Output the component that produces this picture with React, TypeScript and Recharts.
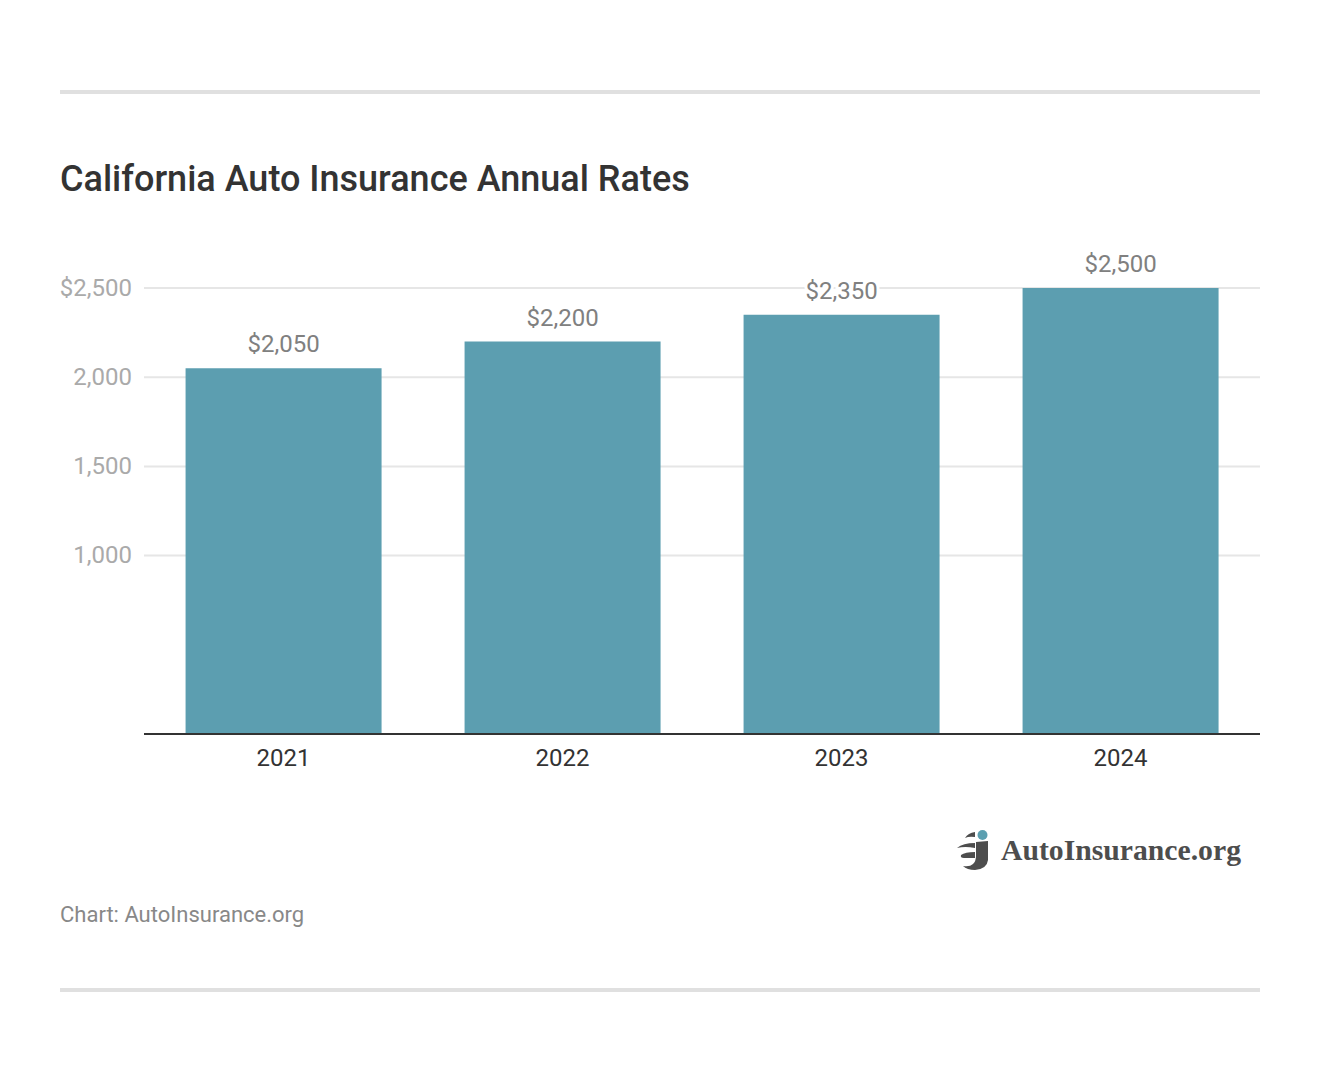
import React from 'react'
import { BarChart, Bar, XAxis, YAxis, CartesianGrid, LabelList } from 'recharts'

const YEARS = ['2021', '2022', '2023', '2024']
const RATES = [2050, 2200, 2350, 2500]
const Y_TICKS = [1000, 1500, 2000, 2500]

const TITLE = 'California Auto Insurance Annual Rates'
const SOURCE = 'Chart: AutoInsurance.org'
const BRAND = 'AutoInsurance.org'

const data = YEARS.map((year, i) => ({ year, rate: RATES[i] }))
const FONT = 'Roboto, sans-serif'

const money = (v: number) => '$' + v.toLocaleString('en-US')
const yTick = (v: number) => (v === 2500 ? money(v) : v.toLocaleString('en-US'))

const rule: React.CSSProperties = { position: 'absolute', left: 60, width: 1200, height: 4, background: '#e0e0e0' }

const Logo = () => (
  <div style={{ position: 'absolute', left: 955, top: 828 }}>
    <svg width={36} height={44} style={{ position: 'absolute', left: 0, top: 0 }}>
      <circle cx={27.5} cy={7} r={5} fill="#5b9fb0" />
      <path d="M21 14 L33 13 L33 32 Q32 41 20 42 Q12 42 8 38 Q15 39 18 36 Q21 33 21 28 Z" fill="#4d4d4d" />
      <path d="M10 10 Q13 5 20 4 L20 9 Q14 8 10 10 Z" fill="#4d4d4d" />
      <path d="M2 20 Q8 15 20 15 L20 20 Q10 18 2 20 Z" fill="#4d4d4d" />
      <path d="M6 27 Q10 24 20 24 L20 30 L9 30 Q5 30 6 27 Z" fill="#4d4d4d" />
    </svg>
    <div style={{
      position: 'absolute', left: 46, top: 4, whiteSpace: 'nowrap',
      fontFamily: '"Liberation Serif", serif', fontWeight: 700, fontSize: 29.7, color: '#4d4d4d', lineHeight: '36px',
    }}>{BRAND}</div>
  </div>
)

export default function App() {
  return (
    <div style={{ position: 'absolute', left: 0, top: 0, width: 1320, height: 1072, background: '#fff', fontFamily: FONT }}>
      <div style={{ ...rule, top: 90 }} />
      <div style={{
        position: 'absolute', left: 60, top: 158, fontSize: 36, fontWeight: 500, color: '#333', lineHeight: '42px', whiteSpace: 'nowrap',
      }}>{TITLE}</div>

      <BarChart
        width={1320}
        height={1072}
        data={data}
        margin={{ top: 288, right: 60, bottom: 308, left: 60 }}
        barCategoryGap="14.9%"
        style={{ position: 'absolute', left: 0, top: 0 }}
      >
        <CartesianGrid vertical={false} stroke="#e6e6e6" strokeWidth={2} />
        <XAxis
          dataKey="year"
          tickLine={false}
          axisLine={{ stroke: '#333', strokeWidth: 2 }}
          tick={{ fill: '#333', fontSize: 24, fontFamily: FONT }}
          tickMargin={9}
        />
        <YAxis
          width={84}
          domain={[0, 2500]}
          ticks={Y_TICKS}
          tickFormatter={yTick}
          tickLine={false}
          axisLine={false}
          tick={{ fill: '#aaa', fontSize: 24, fontFamily: FONT, dy: -1 }}
          tickMargin={6}
        />
        <Bar dataKey="rate" fill="#5c9eb0" isAnimationActive={false}>
          <LabelList
            dataKey="rate"
            position="top"
            offset={16}
            formatter={money}
            fill="#808080"
            fontSize={24}
            fontFamily={FONT}
            stroke="#fff"
            strokeWidth={6}
            paintOrder="stroke"
          />
        </Bar>
      </BarChart>

      <Logo />
      <div style={{
        position: 'absolute', left: 60, top: 901, fontSize: 22, color: '#888', lineHeight: '28px', whiteSpace: 'nowrap',
      }}>{SOURCE}</div>
      <div style={{ ...rule, top: 988 }} />
    </div>
  )
}
